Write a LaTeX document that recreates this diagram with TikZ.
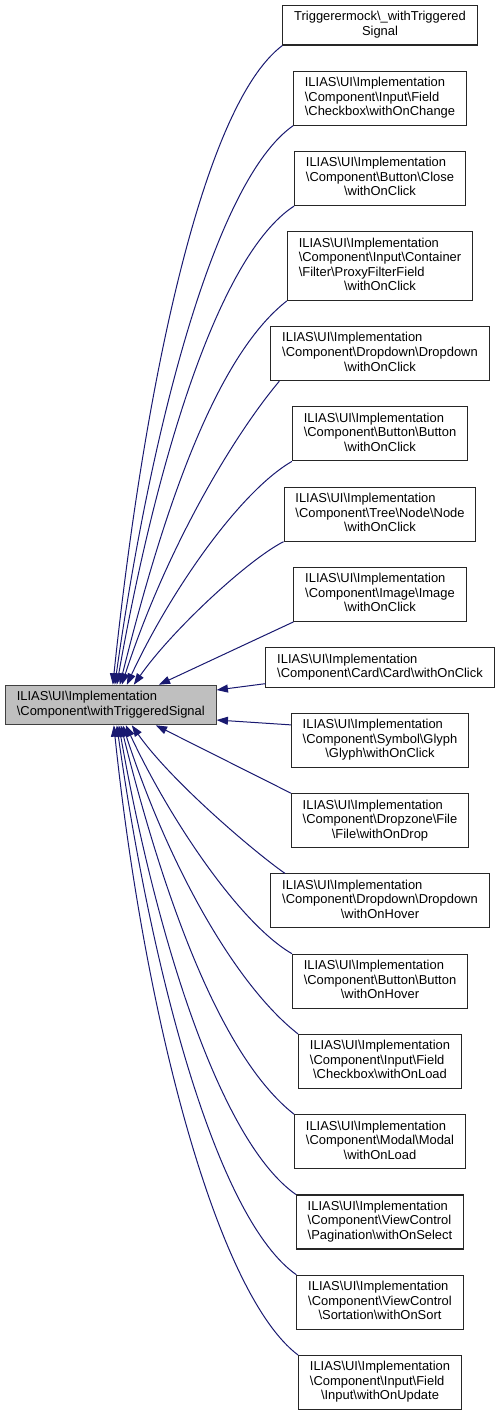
\documentclass[tikz,border=0pt]{standalone}
\usepackage{fontspec}
\setmainfont{Liberation Sans}
\usetikzlibrary{arrows.meta, positioning}

\newcommand{\bsl}{\textbackslash}
\newcommand{\iliasimpl}{ILIAS\bsl UI\bsl Implementation}
\newcommand{\lastrow}[1]{\multicolumn{1}{@{}c@{}}{#1}}
\newcommand{\boxtext}[1]{\begin{tabular}{@{}l@{}}#1\end{tabular}}

\begin{document}
\begin{tikzpicture}[
    node distance=18.9pt,
    cls/.style={rectangle, draw=black!85, line width=0.8pt, fill=white, inner xsep=8.5pt, inner ysep=3.9pt,
        font=\fontsize{9.7}{10.9}\selectfont},
    focus/.style={cls, fill=black!25, draw=black!75},
    edge/.style={draw={rgb,255:red,25;green,25;blue,112}, line width=0.75pt, -{Triangle[length=8.5pt, width=6pt]}}
]
    \useasboundingbox (0,0) rectangle (375.75pt,-1061.25pt);

    \node[focus, anchor=west] (main) at (3.75pt,-528.75pt) {\boxtext{\iliasimpl\\ \lastrow{\bsl Component\bsl withTriggeredSignal}}};

    \node[cls, anchor=north] (trig) at (285pt,-3.75pt) {\boxtext{Triggerermock\bsl\_withTriggered\\ \lastrow{Signal}}};
    \node[cls, below=of trig] (chkchange) {\boxtext{\iliasimpl\\ \bsl Component\bsl Input\bsl Field\\ \lastrow{\bsl Checkbox\bsl withOnChange}}};
    \node[cls, below=of chkchange] (close) {\boxtext{\iliasimpl\\ \bsl Component\bsl Button\bsl Close\\ \lastrow{\bsl withOnClick}}};
    \node[cls, below=of close] (proxy) {\boxtext{\iliasimpl\\ \bsl Component\bsl Input\bsl Container\\ \bsl Filter\bsl ProxyFilterField\\ \lastrow{\bsl withOnClick}}};
    \node[cls, below=of proxy] (ddclick) {\boxtext{\iliasimpl\\ \bsl Component\bsl Dropdown\bsl Dropdown\\ \lastrow{\bsl withOnClick}}};
    \node[cls, below=of ddclick] (btnclick) {\boxtext{\iliasimpl\\ \bsl Component\bsl Button\bsl Button\\ \lastrow{\bsl withOnClick}}};
    \node[cls, below=of btnclick] (tree) {\boxtext{\iliasimpl\\ \bsl Component\bsl Tree\bsl Node\bsl Node\\ \lastrow{\bsl withOnClick}}};
    \node[cls, below=of tree] (image) {\boxtext{\iliasimpl\\ \bsl Component\bsl Image\bsl Image\\ \lastrow{\bsl withOnClick}}};
    \node[cls, below=of image] (card) {\boxtext{\iliasimpl\\ \lastrow{\bsl Component\bsl Card\bsl Card\bsl withOnClick}}};
    \node[cls, below=of card] (glyph) {\boxtext{\iliasimpl\\ \bsl Component\bsl Symbol\bsl Glyph\\ \lastrow{\bsl Glyph\bsl withOnClick}}};
    \node[cls, below=of glyph] (file) {\boxtext{\iliasimpl\\ \bsl Component\bsl Dropzone\bsl File\\ \lastrow{\bsl File\bsl withOnDrop}}};
    \node[cls, below=of file] (ddhover) {\boxtext{\iliasimpl\\ \bsl Component\bsl Dropdown\bsl Dropdown\\ \lastrow{\bsl withOnHover}}};
    \node[cls, below=of ddhover] (btnhover) {\boxtext{\iliasimpl\\ \bsl Component\bsl Button\bsl Button\\ \lastrow{\bsl withOnHover}}};
    \node[cls, below=of btnhover] (chkload) {\boxtext{\iliasimpl\\ \bsl Component\bsl Input\bsl Field\\ \lastrow{\bsl Checkbox\bsl withOnLoad}}};
    \node[cls, below=of chkload] (modal) {\boxtext{\iliasimpl\\ \bsl Component\bsl Modal\bsl Modal\\ \lastrow{\bsl withOnLoad}}};
    \node[cls, below=of modal] (pagin) {\boxtext{\iliasimpl\\ \bsl Component\bsl ViewControl\\ \lastrow{\bsl Pagination\bsl withOnSelect}}};
    \node[cls, below=of pagin] (sort) {\boxtext{\iliasimpl\\ \bsl Component\bsl ViewControl\\ \lastrow{\bsl Sortation\bsl withOnSort}}};
    \node[cls, below=of sort] (update) {\boxtext{\iliasimpl\\ \bsl Component\bsl Input\bsl Field\\ \lastrow{\bsl Input\bsl withOnUpdate}}};

    % upper fan
    \draw[edge] (trig.south west) .. controls +(217:75pt) and +(84:225pt) .. ([xshift=1.5pt]main.north);
    \draw[edge] (chkchange.south west) .. controls +(215:71pt) and +(82:196pt) .. ([xshift=3pt]main.north);
    \draw[edge] (close.south west) .. controls +(213:68pt) and +(80:168pt) .. ([xshift=4.5pt]main.north);
    \draw[edge] (proxy.south west) .. controls +(218:68pt) and +(76:135pt) .. ([xshift=6.75pt]main.north);
    \draw[edge] ([xshift=6.75pt]ddclick.south west) .. controls +(230:55pt) and +(72:106pt) .. ([xshift=8.25pt]main.north);
    \draw[edge] (btnclick.south west) .. controls +(210:45pt) and +(65:78pt) .. ([xshift=12pt]main.north);
    \draw[edge] (tree.south west) .. controls +(207:30pt) and +(55:50pt) .. ([xshift=17.25pt]main.north);
    \draw[edge] (image.south west) -- ([xshift=36pt]main.north);

    % side and lower fan
    \draw[edge] ([yshift=3pt]card.south west) -- ([yshift=11.25pt]main.east);
    \draw[edge] ([yshift=-9pt]glyph.north west) -- ([yshift=-11.25pt]main.east);
    \draw[edge] (file.north west) -- ([xshift=33.75pt]main.south);
    \draw[edge] ([xshift=11pt]ddhover.north west) .. controls +(145:30pt) and +(-55:50pt) .. ([xshift=15.75pt]main.south);
    \draw[edge] (btnhover.north west) .. controls +(150:45pt) and +(-65:78pt) .. ([xshift=11.25pt]main.south);
    \draw[edge] (chkload.north west) .. controls +(142:60pt) and +(-72:110pt) .. ([xshift=9pt]main.south);
    \draw[edge] (modal.north west) .. controls +(142:68pt) and +(-76:139pt) .. ([xshift=7.5pt]main.south);
    \draw[edge] (pagin.north west) .. controls +(145:68pt) and +(-80:166pt) .. ([xshift=6pt]main.south);
    \draw[edge] (sort.north west) .. controls +(145:71pt) and +(-82:196pt) .. ([xshift=4.5pt]main.south);
    \draw[edge] (update.north west) .. controls +(143:75pt) and +(-84:225pt) .. ([xshift=2.25pt]main.south);
\end{tikzpicture}
\end{document}
